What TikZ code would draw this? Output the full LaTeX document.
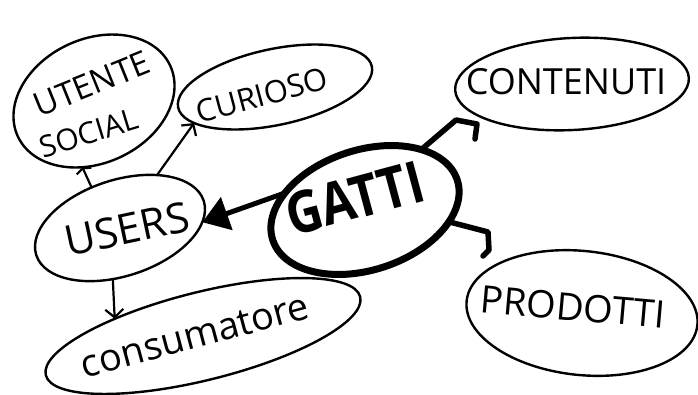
\documentclass[tikz,border=0pt]{standalone}
\usepackage{fontspec}
\setmainfont{Open Sans}
\usetikzlibrary{shapes.geometric,arrows.meta}
\newcommand{\fs}[1]{\fontsize{#1}{#1}\selectfont}
\begin{document}
\begin{tikzpicture}[x=1pt,y=-1pt,
  line cap=round, line join=round,
  bubble/.style={draw, ellipse, inner sep=0pt, outer sep=0pt, line width=2.4pt},
  hub/.style={bubble, line width=7pt},
  lbl/.style={inner sep=0pt},
  thinlink/.style={line width=2.2pt, -{Straight Barb[length=8pt,width=18pt]}},
  flatlink/.style={line width=2.2pt, -{Straight Barb[length=3pt,width=16pt]}},
  boldlink/.style={line width=5pt, -{Triangle[length=26pt,width=34pt]}},
  hooklink/.style={line width=5.5pt}]
\path[use as bounding box, fill=white] (0,0) rectangle (698,394);

% bubbles
\node[bubble, minimum width=168pt, minimum height=124pt, rotate=25] (utente) at (94,101) {};
\node[bubble, minimum width=198pt, minimum height=76pt, rotate=12] (curioso) at (275,87) {};
\node[bubble, minimum width=176pt, minimum height=96pt, rotate=18] (users) at (120,228) {};
\node[hub, minimum width=194pt, minimum height=120pt, rotate=18] (gatti) at (365,210) {};
\node[bubble, minimum width=234pt, minimum height=92pt, rotate=3] (contenuti) at (572,84) {};
\node[bubble, minimum width=232pt, minimum height=124pt, rotate=-6] (prodotti) at (582,313) {};
\node[bubble, minimum width=324pt, minimum height=88pt, rotate=14] (consumatore) at (203,336) {};

% labels
\node[lbl, rotate=22, font=\fs{33}] (utenteA) at (92,84) {UTENTE};
\node[lbl, rotate=17, font=\fs{30}] (utenteB) at (89,133) {SOCIAL};
\node[lbl, rotate=15, font=\fs{31}] (curiosoT) at (262,95) {CURIOSO};
\node[lbl, rotate=12, font=\fs{42}] (usersT) at (127,229) {USERS};
\node[lbl, rotate=15, font=\bfseries\fs{58}] (gattiT) at (355,198) {\scalebox{0.85}[1]{GATTI}};
\node[lbl, font=\fs{36}] (contenutiT) at (566,82) {CONTENUTI};
\node[lbl, rotate=-5, font=\fs{38}] (prodottiT) at (573,307) {PRODOTTI};
\node[lbl, rotate=15, font=\fs{38}] (consumatoreT) at (195,336) {consumatore};

% hook ends of the outgoing links
\coordinate (cTip) at (456,120);
\coordinate (pTip) at (488,232);

% links
\draw[boldlink] (gatti.150) -- (users.346);
\draw[hooklink] (gatti.29) -- (cTip) -- ++(21,4) -- ++(-2,15);
\draw[hooklink] (gatti.334) -- (pTip) -- ++(1,18) -- ++(-6,6);
\draw[flatlink] (users.107) -- (utente.235);
\draw[thinlink] (users.37) -- (curioso.192);
\draw[thinlink] (users.244) -- (consumatore.155);
\end{tikzpicture}
\end{document}
